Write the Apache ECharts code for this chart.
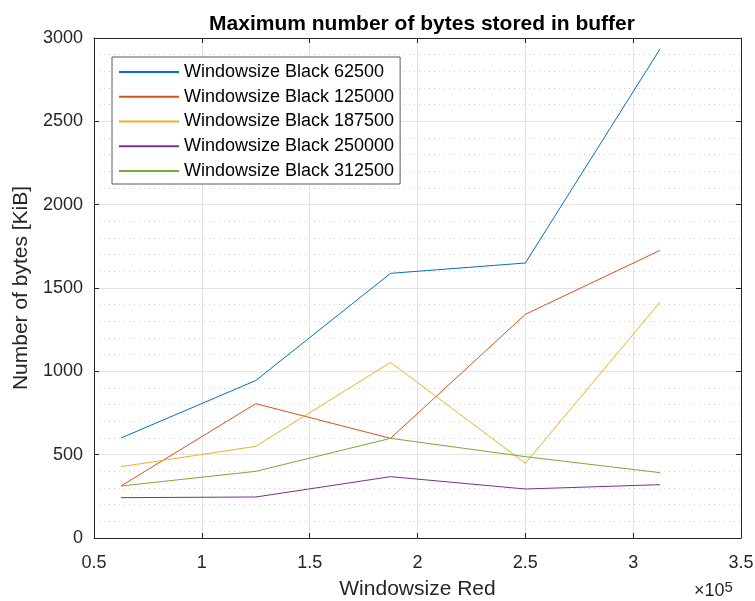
<!DOCTYPE html>
<html>
<head>
<meta charset="utf-8">
<script src="https://cdn.jsdelivr.net/npm/echarts@6/dist/echarts.min.js"></script>
<style>
  html, body { margin: 0; padding: 0; background: #fff; }
  #chart { width: 755px; height: 601px; }
</style>
</head>
<body>
<div id="chart"></div>
<script>
// Window sizes on the red side (x axis)
const windowsizeRed = [62500, 125000, 187500, 250000, 312500];

// Maximum buffered bytes [KiB] for each black window size
const black62500  = [600, 945, 1588, 1650, 2935];
const black125000 = [312, 806, 598, 1342, 1726];
const black187500 = [428, 550, 1054, 448, 1416];
const black250000 = [242, 246, 368, 294, 320];
const black312500 = [312, 400, 598, 488, 392];

const seriesNames = [
  'Windowsize Black 62500',
  'Windowsize Black 125000',
  'Windowsize Black 187500',
  'Windowsize Black 250000',
  'Windowsize Black 312500'
];
const seriesValues = [black62500, black125000, black187500, black250000, black312500];
const colors = ['#0072BD', '#D95319', '#EDB120', '#7E2F8E', '#77AC30'];

const FONT = 'Liberation Sans, Arial, Helvetica, sans-serif';
const AXIS_COLOR = '#262626';

const chart = echarts.init(document.getElementById('chart'), null, { renderer: 'canvas' });

const series = seriesNames.map((name, i) => ({
  name: name,
  type: 'line',
  data: windowsizeRed.map((x, j) => [x, seriesValues[i][j]]),
  symbol: 'none',
  lineStyle: { width: 1, color: colors[i] },
  itemStyle: { color: colors[i] },
  animation: false
}));

chart.setOption({
  backgroundColor: '#ffffff',
  animation: false,
  color: colors,
  textStyle: { fontFamily: FONT },
  title: {
    text: 'Maximum number of bytes stored in buffer',
    left: 417,
    textAlign: 'center',
    top: 9,
    textStyle: { fontFamily: FONT, fontSize: 21, fontWeight: 'bold', color: '#000' }
  },
  legend: {
    orient: 'vertical',
    left: 112,
    top: 57,
    padding: [6, 6, 4, 6],
    itemWidth: 60,
    itemHeight: 18,
    itemGap: 6.75,
    backgroundColor: '#ffffff',
    borderColor: '#5a5a5a',
    borderWidth: 1,
    borderRadius: 0,
    // only the line sample is shown, no marker on it
    itemStyle: { opacity: 0 },
    textStyle: { fontFamily: FONT, fontSize: 18, lineHeight: 18, color: '#000' },
    data: seriesNames
  },
  // fixed plot box; labels and names sit outside it
  grid: { left: 94, right: 14, top: 38, bottom: 63, containLabel: false, outerBoundsMode: 'none' },
  xAxis: [{
    type: 'value',
    min: 50000,
    max: 350000,
    interval: 50000,
    name: 'Windowsize Red',
    nameLocation: 'middle',
    nameGap: 41,
    nameTextStyle: { fontFamily: FONT, fontSize: 21, color: AXIS_COLOR },
    axisLine: { show: true, onZero: false, lineStyle: { color: AXIS_COLOR, width: 1 } },
    axisTick: { show: true, inside: true, length: 5, lineStyle: { color: AXIS_COLOR } },
    axisLabel: {
      fontFamily: FONT, fontSize: 18, color: AXIS_COLOR, margin: 16,
      formatter: v => String(v / 1e5)
    },
    splitLine: { show: true, lineStyle: { color: '#e3e3e3', width: 1 } }
  }, {
    type: 'value',
    position: 'top',
    min: 50000,
    max: 350000,
    interval: 50000,
    axisLine: { show: true, onZero: false, lineStyle: { color: AXIS_COLOR, width: 1 } },
    axisTick: { show: true, inside: true, length: 5, lineStyle: { color: AXIS_COLOR } },
    axisLabel: { show: false },
    splitLine: { show: false }
  }],
  yAxis: [{
    type: 'value',
    min: 0,
    max: 3000,
    interval: 500,
    name: 'Number of bytes [KiB]',
    nameLocation: 'middle',
    nameGap: 60,
    nameTextStyle: { fontFamily: FONT, fontSize: 21, color: AXIS_COLOR },
    axisLine: { show: true, onZero: false, lineStyle: { color: AXIS_COLOR, width: 1 } },
    axisTick: { show: true, inside: true, length: 5, lineStyle: { color: AXIS_COLOR } },
    axisLabel: { fontFamily: FONT, fontSize: 18, color: AXIS_COLOR, margin: 11, formatter: v => String(v) },
    splitLine: { show: true, lineStyle: { color: '#e3e3e3', width: 1 } },
    minorTick: { show: false, splitNumber: 5 },
    minorSplitLine: { show: true, lineStyle: { color: '#d0d0d0', width: 1, type: [1, 4] } }
  }, {
    type: 'value',
    position: 'right',
    min: 0,
    max: 3000,
    interval: 500,
    axisLine: { show: true, onZero: false, lineStyle: { color: AXIS_COLOR, width: 1 } },
    axisTick: { show: true, inside: true, length: 5, lineStyle: { color: AXIS_COLOR } },
    axisLabel: { show: false },
    splitLine: { show: false }
  }],
  graphic: [{
    type: 'text',
    left: 694,
    top: 580,
    style: {
      text: '×10{sup|5}',
      fontFamily: FONT,
      fontSize: 18,
      fill: AXIS_COLOR,
      rich: {
        sup: { fontSize: 15, verticalAlign: 'top', padding: [0, 0, 8, 0], fill: AXIS_COLOR, fontFamily: FONT }
      }
    }
  }],
  series: series
});
</script>
</body>
</html>
